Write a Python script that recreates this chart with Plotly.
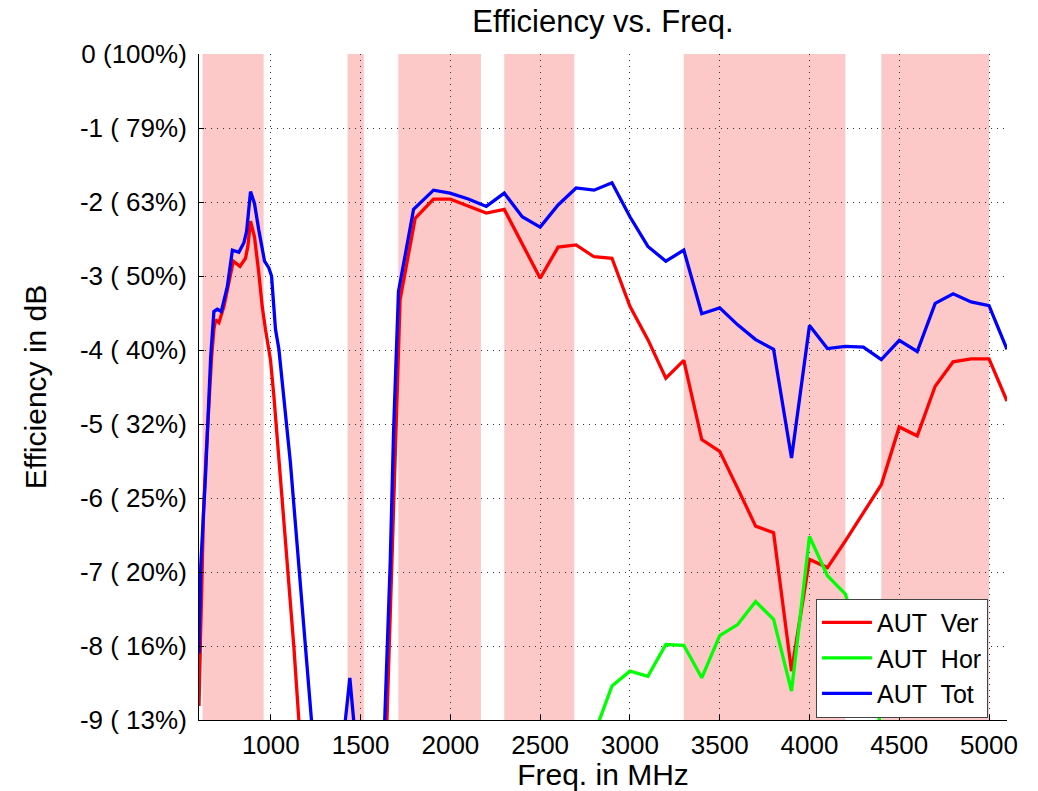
import plotly.graph_objects as go

# ---------------- data ----------------
ver_freq = [600, 610, 625, 640, 655, 670, 683, 693, 711, 739, 791, 828, 859, 872, 887, 909, 933, 952,
            970, 998, 1017, 1054, 1100, 1128, 1170, 1300, 1450, 1550, 1630, 1674, 1693, 1711, 1720,
            1804, 1906, 1998, 2100, 2200, 2300, 2400, 2500, 2600, 2700, 2800, 2900, 3000, 3100,
            3200, 3300, 3400, 3500, 3600, 3700, 3800, 3900, 4000, 4100, 4200, 4300, 4400, 4500,
            4600, 4700, 4800, 4900, 5000, 5100]
ver_db = [-8.81, -7.6, -6.2, -5.4, -4.7, -4.1, -3.72, -3.59, -3.63, -3.41, -2.80, -2.87, -2.76, -2.60,
          -2.26, -2.47, -2.96, -3.41, -3.72, -4.13, -4.62, -5.75, -7.14, -8.00, -9.5, -11.5, -10.5,
          -11.0, -10.3, -6.87, -5.07, -3.72, -3.32, -2.22, -1.96, -1.96, -2.05, -2.15, -2.10, -2.56,
          -3.03, -2.61, -2.58, -2.74, -2.76, -3.41, -3.86, -4.38, -4.14, -5.21, -5.37, -5.87, -6.38,
          -6.47, -8.34, -6.83, -6.94, -6.58, -6.20, -5.82, -5.04, -5.16, -4.49, -4.16, -4.12, -4.12,
          -4.69]

hor_freq = [2700, 2800, 2900, 3000, 3100, 3200, 3300, 3400, 3500, 3600, 3700, 3800, 3900, 4000,
            4100, 4200, 4300, 4400, 4500]
hor_db = [-10.2, -9.2, -8.54, -8.34, -8.41, -7.98, -7.99, -8.43, -7.86, -7.71, -7.40, -7.64, -8.61,
          -6.52, -7.05, -7.30, -8.10, -9.10, -10.5]

tot_freq = [600, 610, 637, 665, 683, 702, 724, 758, 786, 822, 850, 865, 887, 909, 933, 965, 989, 1004,
            1026, 1045, 1109, 1183, 1221, 1260, 1350, 1400, 1440, 1480, 1550, 1620, 1665, 1684, 1702,
            1711, 1795, 1906, 1998, 2100, 2200, 2300, 2400, 2500, 2600, 2700, 2800, 2900, 3000,
            3100, 3200, 3300, 3400, 3500, 3600, 3700, 3800, 3900, 4000, 4100, 4200, 4300, 4400,
            4500, 4600, 4700, 4800, 4900, 5000, 5100]
tot_db = [-8.1, -6.9, -5.66, -4.1, -3.48, -3.45, -3.48, -3.14, -2.65, -2.68, -2.55, -2.40, -1.86,
          -2.02, -2.38, -2.80, -2.89, -3.00, -3.72, -3.99, -5.52, -7.77, -9.0, -10.0, -10.5, -9.4,
          -8.43, -9.5, -11.0, -10.0, -6.87, -5.07, -3.72, -3.21, -2.10, -1.84, -1.88, -1.96, -2.06,
          -1.88, -2.20, -2.34, -2.04, -1.81, -1.84, -1.74, -2.20, -2.60, -2.80, -2.65, -3.51, -3.43,
          -3.66, -3.86, -3.99, -5.46, -3.67, -3.98, -3.95, -3.96, -4.13, -3.87, -4.02, -3.37, -3.24,
          -3.35, -3.40, -3.99]

# frequency bands (MHz) shaded in the background
band_start = [620, 1427, 1710, 2300, 3300, 4400]
band_end = [960, 1518, 2170, 2690, 4200, 5000]

y_tick_vals = [0, -1, -2, -3, -4, -5, -6, -7, -8, -9]
y_tick_text = ["0 (100%)", "-1 ( 79%)", "-2 ( 63%)", "-3 ( 50%)", "-4 ( 40%)",
               "-5 ( 32%)", "-6 ( 25%)", "-7 ( 20%)", "-8 ( 16%)", "-9 ( 13%)"]
x_tick_vals = [1000, 1500, 2000, 2500, 3000, 3500, 4000, 4500, 5000]

series_names = ["AUT\u00a0 Ver", "AUT\u00a0 Hor", "AUT\u00a0 Tot"]
series_colors = ["#ff0000", "#00ff00", "#0000ff"]

# ---------------- figure ----------------
FONT = "Liberation Sans, Arial, Helvetica, sans-serif"
fig = go.Figure()

for xs, ys, name, col in zip([ver_freq, hor_freq, tot_freq], [ver_db, hor_db, tot_db],
                             series_names, series_colors):
    fig.add_trace(go.Scatter(x=xs, y=ys, mode="lines", name=name,
                             line=dict(color=col, width=3.3)))

for s, e in zip(band_start, band_end):
    fig.add_shape(type="rect", xref="x", yref="paper", x0=s, x1=e, y0=0, y1=1,
                  fillcolor="#fcc8c8", line=dict(width=0), layer="below")

fig.update_layout(
    width=1038, height=791,
    margin=dict(l=199, r=31, t=54, b=71),
    paper_bgcolor="white", plot_bgcolor="white",
    font=dict(family=FONT, size=26, color="black"),
    title=dict(text="Efficiency vs. Freq.", x=0.5, xref="paper", xanchor="center",
               y=0.973, yref="container", yanchor="middle",
               font=dict(family=FONT, size=31, color="black")),
    showlegend=True,
    legend=dict(x=0.870, xanchor="center", y=0.093, yanchor="middle",
                bgcolor="white", bordercolor="#444", borderwidth=1,
                font=dict(family=FONT, size=25, color="black"),
                tracegroupgap=0, itemwidth=50),
)

fig.update_xaxes(range=[600, 5100], tickvals=x_tick_vals,
                 ticks="inside", ticklen=5, tickcolor="black",
                 showline=True, linecolor="black", linewidth=1, mirror=False,
                 showgrid=True, gridcolor="#333333", griddash="1px,5px", gridwidth=1,
                 zeroline=False, automargin=False, ticklabelstandoff=2,
                 tickfont=dict(family=FONT, size=26, color="black"),
                 title=dict(text="Freq. in MHz", standoff=10,
                            font=dict(family=FONT, size=30, color="black")))
fig.update_yaxes(range=[-9, 0], tickvals=y_tick_vals, ticktext=y_tick_text,
                 ticks="inside", ticklen=5, tickcolor="black",
                 showline=True, linecolor="black", linewidth=1, mirror=False,
                 showgrid=True, gridcolor="#333333", griddash="1px,5px", gridwidth=1,
                 zeroline=False, automargin=False, ticklabelstandoff=6,
                 tickfont=dict(family=FONT, size=26, color="black"),
                 title=dict(text="Efficiency in dB", standoff=24,
                            font=dict(family=FONT, size=30, color="black")))

fig.write_html("out.html", config={"displayModeBar": False},
               post_script="document.body.style.margin='0';document.body.style.overflow='hidden';")
